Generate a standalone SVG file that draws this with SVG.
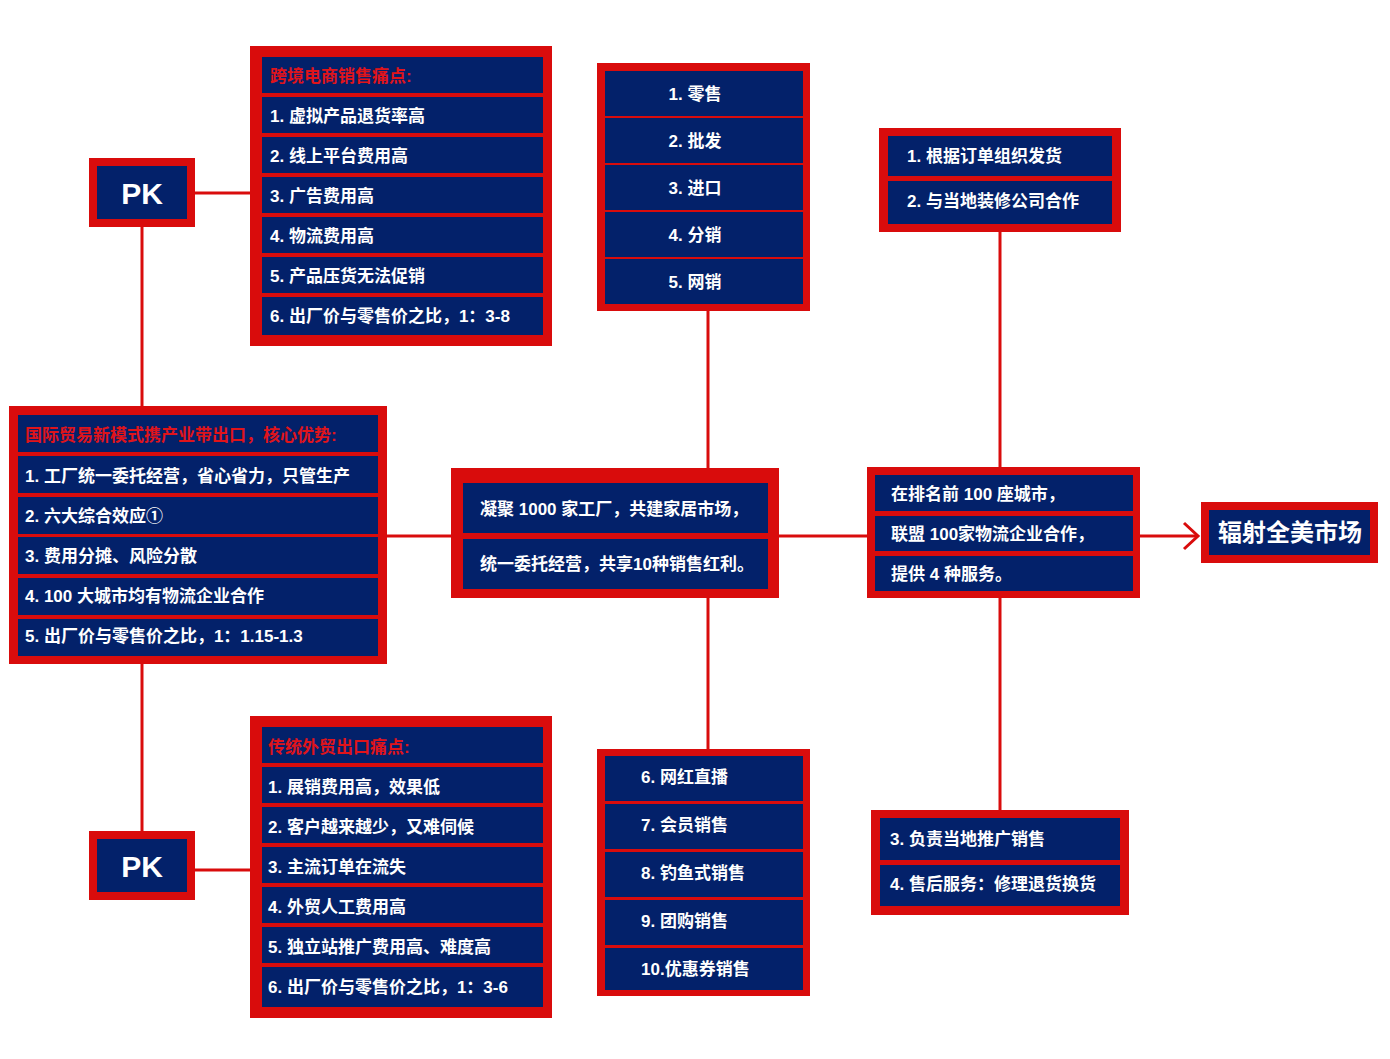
<svg xmlns="http://www.w3.org/2000/svg" width="1390" height="1059" viewBox="0 0 1390 1059">
<style>
.o{fill:#d90c0c}
.r{fill:#03216a}
text{font-family:"Liberation Sans","Noto Sans CJK SC",sans-serif;font-weight:bold;font-size:17px;fill:#fff}
.h{fill:#e0141a}
.c{text-anchor:middle}
.ln{stroke:#d90c0c;stroke-width:3;fill:none}
</style>
<rect width="1390" height="1059" fill="#fff"/>
<g id="connectors">
<line class="ln" x1="195" y1="193" x2="250" y2="193"/>
<line class="ln" x1="142" y1="227" x2="142" y2="406"/>
<line class="ln" x1="142" y1="664" x2="142" y2="831"/>
<line class="ln" x1="195" y1="870" x2="250" y2="870"/>
<line class="ln" x1="387" y1="536" x2="451" y2="536"/>
<line class="ln" x1="779" y1="536" x2="867" y2="536"/>
<line class="ln" x1="1140" y1="536" x2="1198" y2="536"/>
<polyline class="ln" points="1184,523 1198,536 1184,549"/>
<line class="ln" x1="708" y1="311" x2="708" y2="468"/>
<line class="ln" x1="708" y1="598" x2="708" y2="749"/>
<line class="ln" x1="1000" y1="232" x2="1000" y2="467"/>
<line class="ln" x1="1000" y1="598" x2="1000" y2="810"/>
</g>
<g id="pk1"><rect class="o" x="89" y="158" width="106" height="69"/><rect class="r" x="97" y="166" width="90" height="53"/><text class="c" x="142" y="204" style="font-size:30px">PK</text></g>
<g id="pk2"><rect class="o" x="89" y="831" width="106" height="69"/><rect class="r" x="97" y="839" width="90" height="53"/><text class="c" x="142" y="877" style="font-size:30px">PK</text></g>
<g id="pain1">
<rect class="o" x="250" y="46" width="302" height="300"/>
<rect class="r" x="262" y="57" width="281" height="36"/><rect class="r" x="262" y="97" width="281" height="36"/><rect class="r" x="262" y="137" width="281" height="36"/><rect class="r" x="262" y="177" width="281" height="36"/><rect class="r" x="262" y="217" width="281" height="36"/><rect class="r" x="262" y="257" width="281" height="36"/><rect class="r" x="262" y="297" width="281" height="38"/>
<text class="h" x="270" y="82">跨境电商销售痛点:</text>
<text x="270" y="122">1. 虚拟产品退货率高</text>
<text x="270" y="162">2. 线上平台费用高</text>
<text x="270" y="202">3. 广告费用高</text>
<text x="270" y="242">4. 物流费用高</text>
<text x="270" y="282">5. 产品压货无法促销</text>
<text x="270" y="322">6. 出厂价与零售价之比，1：3-8</text>
</g>
<g id="pain2">
<rect class="o" x="250" y="716" width="302" height="302"/>
<rect class="r" x="262" y="727" width="281" height="36"/><rect class="r" x="262" y="767" width="281" height="36"/><rect class="r" x="262" y="807" width="281" height="36"/><rect class="r" x="262" y="847" width="281" height="36"/><rect class="r" x="262" y="887" width="281" height="36"/><rect class="r" x="262" y="927" width="281" height="36"/><rect class="r" x="262" y="967" width="281" height="40"/>
<text class="h" x="268" y="753">传统外贸出口痛点:</text>
<text x="268" y="793">1. 展销费用高，效果低</text>
<text x="268" y="833">2. 客户越来越少，又难伺候</text>
<text x="268" y="873">3. 主流订单在流失</text>
<text x="268" y="913">4. 外贸人工费用高</text>
<text x="268" y="953">5. 独立站推广费用高、难度高</text>
<text x="268" y="993">6. 出厂价与零售价之比，1：3-6</text>
</g>
<g id="main">
<rect class="o" x="9" y="406" width="378" height="258"/>
<rect class="r" x="18" y="415" width="360" height="37"/><rect class="r" x="18" y="456" width="360" height="37"/><rect class="r" x="18" y="497" width="360" height="37"/><rect class="r" x="18" y="537" width="360" height="37"/><rect class="r" x="18" y="578" width="360" height="37"/><rect class="r" x="18" y="619" width="360" height="37"/>
<text class="h" x="25" y="441">国际贸易新模式携产业带出口，核心优势:</text>
<text x="25" y="482">1. 工厂统一委托经营，省心省力，只管生产</text>
<text x="25" y="522">2. 六大综合效应①</text>
<text x="25" y="562">3. 费用分摊、风险分散</text>
<text x="25" y="602">4. 100 大城市均有物流企业合作</text>
<text x="25" y="642">5. 出厂价与零售价之比，1：1.15-1.3</text>
</g>
<g id="channels1">
<rect class="o" x="597" y="63" width="213" height="248"/>
<rect class="r" x="605" y="71" width="198" height="45"/><rect class="r" x="605" y="118" width="198" height="45"/><rect class="r" x="605" y="165" width="198" height="45"/><rect class="r" x="605" y="212" width="198" height="45"/><rect class="r" x="605" y="259" width="198" height="45"/>
<text class="c" x="695" y="100">1. 零售</text>
<text class="c" x="695" y="147">2. 批发</text>
<text class="c" x="695" y="194">3. 进口</text>
<text class="c" x="695" y="241">4. 分销</text>
<text class="c" x="695" y="288">5. 网销</text>
</g>
<g id="channels2">
<rect class="o" x="597" y="749" width="213" height="247"/>
<rect class="r" x="605" y="756" width="198" height="45"/><rect class="r" x="605" y="804" width="198" height="45"/><rect class="r" x="605" y="852" width="198" height="45"/><rect class="r" x="605" y="900" width="198" height="45"/><rect class="r" x="605" y="948" width="198" height="42"/>
<text x="641" y="783">6. 网红直播</text>
<text x="641" y="831">7. 会员销售</text>
<text x="641" y="879">8. 钓鱼式销售</text>
<text x="641" y="927">9. 团购销售</text>
<text x="641" y="975">10.优惠券销售</text>
</g>
<g id="center">
<rect class="o" x="451" y="468" width="328" height="130"/>
<rect class="r" x="463" y="483" width="305" height="50"/><rect class="r" x="463" y="539" width="305" height="50"/>
<text x="480" y="515">凝聚 1000 家工厂，共建家居市场，</text>
<text x="480" y="570">统一委托经营，共享10种销售红利。</text>
</g>
<g id="services">
<rect class="o" x="867" y="467" width="273" height="131"/>
<rect class="r" x="875" y="475" width="258" height="36"/><rect class="r" x="875" y="516" width="258" height="35"/><rect class="r" x="875" y="556" width="258" height="35"/>
<text x="891" y="500">在排名前 100 座城市，</text>
<text x="891" y="540">联盟 100家物流企业合作，</text>
<text x="891" y="580">提供 4 种服务。</text>
</g>
<g id="svc1">
<rect class="o" x="879" y="128" width="242" height="104"/>
<rect class="r" x="888" y="136" width="224" height="40"/><rect class="r" x="888" y="181" width="224" height="43"/>
<text x="907" y="162">1. 根据订单组织发货</text>
<text x="907" y="207">2. 与当地装修公司合作</text>
</g>
<g id="svc2">
<rect class="o" x="871" y="810" width="258" height="105"/>
<rect class="r" x="880" y="818" width="240" height="42"/><rect class="r" x="880" y="865" width="240" height="41"/>
<text x="890" y="845">3. 负责当地推广销售</text>
<text x="890" y="890">4. 售后服务：修理退货换货</text>
</g>
<g id="market">
<rect class="o" x="1201" y="502" width="177" height="61"/>
<rect class="r" x="1209" y="510" width="161" height="45"/>
<text class="c" x="1290" y="541" style="font-size:24px">辐射全美市场</text>
</g>
</svg>
